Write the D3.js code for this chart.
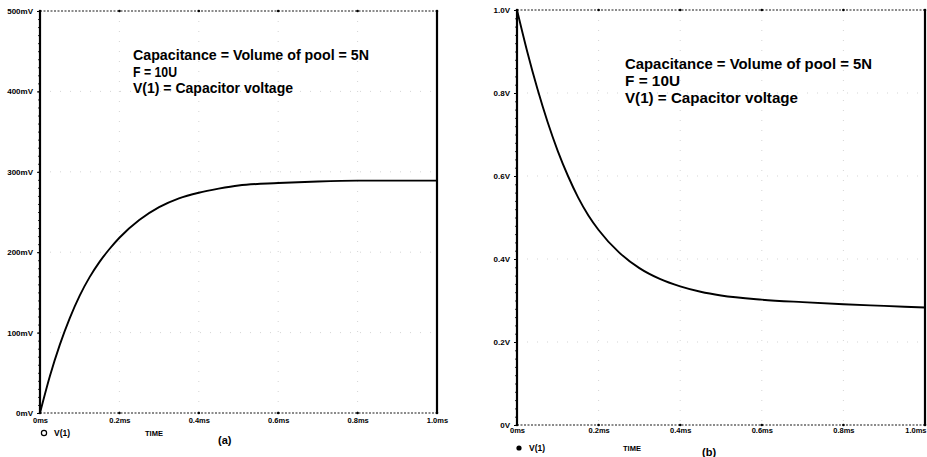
<!DOCTYPE html>
<html>
<head>
<meta charset="utf-8">
<script src="https://cdn.jsdelivr.net/npm/d3@7"></script>
<style>
  body { margin: 0; background: #fff; }
  svg { display: block; font-family: "Liberation Sans", Arial, sans-serif; }
</style>
</head>
<body>
<div id="chart"></div>
<script>
// time samples (ms)
const timeMs = [0, 0.025, 0.05, 0.075, 0.1, 0.125, 0.15, 0.175, 0.2, 0.25, 0.3, 0.35, 0.4, 0.45, 0.5, 0.6, 0.7, 0.8, 0.9, 1.0];
// (a) charging, mV
const chargeMv = [0, 46, 85, 118, 146, 169, 188, 204, 218, 240, 256, 267, 274, 279, 283, 286, 288, 289, 289, 289];
// (b) discharging, V
const dischargeV = [1.0, 0.9, 0.81, 0.73, 0.66, 0.6, 0.548, 0.505, 0.47, 0.416, 0.378, 0.352, 0.334, 0.321, 0.312, 0.302, 0.296, 0.291, 0.287, 0.283];

const xTicks = [0, 0.2, 0.4, 0.6, 0.8, 1.0];
const xTickLabels = ["0ms", "0.2ms", "0.4ms", "0.6ms", "0.8ms", "1.0ms"];
const yTicksA = [0, 100, 200, 300, 400, 500];
const yTickLabelsA = ["0mV", "100mV", "200mV", "300mV", "400mV", "500mV"];
const yTicksB = [0, 0.2, 0.4, 0.6, 0.8, 1.0];
const yTickLabelsB = ["0V", "0.2V", "0.4V", "0.6V", "0.8V", "1.0V"];
const noteLines = ["Capacitance = Volume of pool = 5N", "F = 10U", "V(1) = Capacitor voltage"];

const w = 927, h = 457;
const svg = d3.select("#chart").append("svg").attr("width", w).attr("height", h);

const panel = (cfg) => {
  const xScale = d3.scaleLinear().domain([0, 1]).range([cfg.left, cfg.right]);
  const yScale = d3.scaleLinear().domain(cfg.yDomain).range([cfg.bottom, cfg.top]);
  const g = svg.append("g");

  // faint grid
  g.selectAll("line.vgrid").data(xTicks.slice(1, -1)).enter().append("line")
    .attr("x1", d => xScale(d)).attr("x2", d => xScale(d))
    .attr("y1", cfg.top).attr("y2", cfg.bottom)
    .attr("stroke", "#bbb").attr("stroke-width", 1).attr("stroke-dasharray", "1,9").attr("opacity", 0.6);
  g.selectAll("line.hgrid").data(cfg.yTicks.slice(1, -1)).enter().append("line")
    .attr("x1", cfg.left).attr("x2", cfg.right)
    .attr("y1", d => yScale(d)).attr("y2", d => yScale(d))
    .attr("stroke", "#bbb").attr("stroke-width", 1).attr("stroke-dasharray", "1,9").attr("opacity", 0.6);

  // top & bottom frame: dotted
  [cfg.top, cfg.bottom].forEach(y => {
    g.append("line").attr("x1", cfg.left).attr("x2", cfg.right).attr("y1", y).attr("y2", y)
      .attr("stroke", "#666").attr("stroke-width", 1.4).attr("stroke-dasharray", "2,1.5");
  });

  // left axis with minor ticks
  const minor = d3.axisLeft(yScale).ticks(60).tickSize(2).tickFormat("");
  g.append("g").attr("transform", `translate(${cfg.left},0)`).call(minor)
    .call(a => a.select(".domain").remove())
    .call(a => a.selectAll("line").attr("stroke", "#333"));
  const yAxis = d3.axisLeft(yScale).tickValues(cfg.yTicks).tickSize(3)
    .tickFormat((d, i) => cfg.yTickLabels[i]);
  g.append("g").attr("transform", `translate(${cfg.left},0)`).call(yAxis)
    .call(a => a.select(".domain").remove())
    .call(a => a.selectAll("text").attr("font-size", "8px").attr("font-weight", "bold").attr("dx", "-1").attr("fill", "#000"));

  // x tick labels
  const xAxis = d3.axisBottom(xScale).tickValues(xTicks).tickSize(0)
    .tickFormat((d, i) => xTickLabels[i]);
  g.append("g").attr("transform", `translate(0,${cfg.bottom})`).call(xAxis)
    .call(a => a.select(".domain").remove())
    .call(a => a.selectAll("text").attr("font-size", "7.5px").attr("font-weight", "bold").attr("dy", cfg.xLabelDy).attr("fill", "#000"))
    .call(a => { if (cfg.lastEnd) a.selectAll("text").filter(d => d === 1).attr("text-anchor", "end").attr("dx", "1"); });
  g.selectAll("circle.xt").data(xTicks).enter().append("circle")
    .attr("cx", d => xScale(d)).attr("cy", cfg.bottom).attr("r", 1.3).attr("fill", "#000");
  g.selectAll("circle.xtt").data(xTicks).enter().append("circle")
    .attr("cx", d => xScale(d)).attr("cy", cfg.top).attr("r", 1.3).attr("fill", "#000");

  // left / right solid frame
  [cfg.left, cfg.right].forEach(x => {
    g.append("line").attr("x1", x).attr("x2", x).attr("y1", cfg.top).attr("y2", cfg.bottom)
      .attr("stroke", "#000").attr("stroke-width", 2.2);
  });

  // trace
  const line = d3.line().x((d, i) => xScale(timeMs[i])).y(d => yScale(d)).curve(d3.curveMonotoneX);
  g.append("path").datum(cfg.values).attr("d", line)
    .attr("fill", "none").attr("stroke", "#000").attr("stroke-width", 1.9);

  // note
  noteLines.forEach((t, i) => {
    g.append("text").attr("x", cfg.noteX).attr("y", cfg.noteY + i * cfg.noteGap)
      .attr("font-size", cfg.noteSize).attr("font-weight", "bold")
      .attr("textLength", cfg.noteWidths[i]).attr("lengthAdjust", "spacingAndGlyphs")
      .text(t);
  });

  // legend + axis title + panel tag
  const marker = g.append("circle").attr("cx", cfg.legendX).attr("cy", cfg.legendY - 3).attr("r", 2.6);
  if (cfg.hollow) marker.attr("fill", "none").attr("stroke", "#000").attr("stroke-width", 1.2);
  else marker.attr("fill", "#000");
  g.append("text").attr("x", cfg.legendX + 10).attr("y", cfg.legendY)
    .attr("font-size", "8.5px").attr("font-weight", "bold").text("V(1)");
  g.append("text").attr("x", cfg.timeX).attr("y", cfg.legendY)
    .attr("font-size", "7.5px").attr("font-weight", "bold").text("TIME");
  g.append("text").attr("x", cfg.tagX).attr("y", cfg.tagY)
    .attr("font-size", "11px").attr("font-weight", "bold").text(cfg.tag);
};

panel({
  left: 40, right: 437, top: 11, bottom: 413,
  yDomain: [0, 500], yTicks: yTicksA, yTickLabels: yTickLabelsA,
  values: chargeMv, xLabelDy: "0.9em", lastEnd: false,
  noteX: 133, noteY: 60, noteGap: 16.5, noteSize: "14px", noteWidths: [236, 44, 160],
  legendX: 44, legendY: 436, hollow: true, timeX: 145,
  tagX: 218, tagY: 444, tag: "(a)"
});

panel({
  left: 517, right: 925, top: 10, bottom: 425,
  yDomain: [0, 1], yTicks: yTicksB, yTickLabels: yTickLabelsB,
  values: dischargeV, xLabelDy: "0.6em", lastEnd: true,
  noteX: 625, noteY: 69, noteGap: 17, noteSize: "14.5px", noteWidths: [247, 55, 173],
  legendX: 519, legendY: 451, hollow: false, timeX: 623,
  tagX: 702, tagY: 456, tag: "(b)"
});
</script>
</body>
</html>
